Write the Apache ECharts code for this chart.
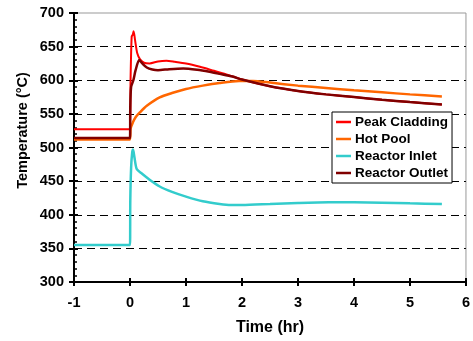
<!DOCTYPE html>
<html><head><meta charset="utf-8">
<script src="https://cdn.jsdelivr.net/npm/echarts@6/dist/echarts.min.js"></script>
<style>html,body{margin:0;padding:0;background:#fff}#c{width:473px;height:341px}</style>
</head><body><div id="c"></div>
<script>
var seriesNames = ['Peak Cladding', 'Hot Pool', 'Reactor Inlet', 'Reactor Outlet'];
var xTicks = [-1, 0, 1, 2, 3, 4, 5, 6];
var yTicks = [300, 350, 400, 450, 500, 550, 600, 650, 700];
var xTitle = 'Time (hr)';
var yTitle = 'Temperature (\u00B0C)';

var peakT = [-1, 0, 0.01, 0.03, 0.05, 0.065, 0.09, 0.13, 0.18, 0.25, 0.35, 0.5, 0.65, 0.8, 1.0, 1.25, 1.5, 1.75, 2.0, 2.5, 3.0, 3.5, 4.0, 4.5, 5.0, 5.57];
var peakV = [527, 527, 600, 665, 668, 673, 660, 640, 631, 626, 625, 628, 629, 627.5, 625, 620, 614, 608, 601, 591, 584, 579, 575, 571, 567.5, 564];

var poolT = [-1, 0, 0.01, 0.05, 0.1, 0.18, 0.3, 0.53, 0.75, 1.0, 1.3, 1.6, 1.95, 2.2, 2.5, 3.0, 3.5, 4.0, 4.5, 5.0, 5.57];
var poolV = [512, 512, 528, 537, 545, 552.5, 562, 574.5, 581, 587, 592, 596, 599, 599, 596.5, 592, 588.5, 585, 582, 579, 576];

var inletT = [-1, 0, 0.005, 0.02, 0.04, 0.055, 0.08, 0.12, 0.2, 0.35, 0.53, 0.75, 1.0, 1.3, 1.6, 1.8, 2.0, 2.5, 3.0, 3.55, 4.0, 4.5, 5.0, 5.57];
var inletV = [355, 355, 420, 470, 493, 497, 485, 468, 462, 452, 442, 434, 427, 420, 416, 414.5, 414.5, 416, 417.5, 418.5, 418.5, 418, 417, 416];

var outletT = [-1, 0, 0.005, 0.02, 0.06, 0.1, 0.165, 0.22, 0.3, 0.4, 0.5, 0.7, 0.95, 1.2, 1.42, 1.6, 1.83, 2.0, 2.5, 3.0, 3.5, 4.0, 4.5, 5.0, 5.57];
var outletV = [514, 514, 560, 590, 600, 615, 630, 625, 619, 616, 615, 616.5, 617.5, 615.5, 612.5, 609.5, 605.5, 601, 591, 584, 579, 575, 571, 567.5, 564];

function pairs(t, v) { return t.map(function (x, i) { return [x, v[i]]; }); }

var colors = ['#FF0000', '#FF6600', '#33CCCC', '#800000'];
var widths = [2, 2.5, 2.5, 2.5];
var data = [pairs(peakT, peakV), pairs(poolT, poolV), pairs(inletT, inletV), pairs(outletT, outletV)];

var font = 'Arial, "Liberation Sans", sans-serif';
var chart = echarts.init(document.getElementById('c'), null, {renderer: 'canvas'});
var xMin = xTicks[0], xMax = xTicks[xTicks.length - 1];
var yMin = yTicks[0], yMax = yTicks[yTicks.length - 1];
chart.setOption({
  animation: false,
  backgroundColor: '#fff',
  grid: {left: 74, right: 4, top: 13, bottom: 57, show: true, borderColor: '#999', borderWidth: 1},
  legend: {
    orient: 'vertical', left: 332, top: 112,
    data: seriesNames,
    icon: 'rect', itemWidth: 15, itemHeight: 2.5, itemGap: 3,
    padding: [3, 4, 3, 4],
    borderColor: '#000', borderWidth: 1, backgroundColor: '#fff',
    textStyle: {fontFamily: font, fontWeight: 'bold', fontSize: 13.5, color: '#000', padding: [0, 0, 0, -1]}
  },
  graphic: [{
    type: 'text', x: 22.5, y: 130.5, rotation: Math.PI / 2,
    style: {text: yTitle, font: 'bold 14.5px ' + font, fill: '#000', align: 'center', verticalAlign: 'middle'}
  }],
  xAxis: [{
    type: 'value', min: xMin, max: xMax, interval: 1,
    name: xTitle, nameLocation: 'middle', nameGap: 38,
    nameTextStyle: {fontFamily: font, fontWeight: 'bold', fontSize: 16, color: '#000'},
    axisLine: {show: true, onZero: false, lineStyle: {color: '#000', width: 2}},
    axisTick: {show: true, inside: false, length: 4, lineStyle: {color: '#000', width: 2}},
    axisLabel: {fontFamily: font, fontWeight: 'bold', fontSize: 14.5, color: '#000', margin: 13},
    splitLine: {show: false}
  }, {
    type: 'value', position: 'bottom', min: xMin, max: xMax, interval: 1,
    axisLine: {show: false, onZero: false}, axisLabel: {show: false}, splitLine: {show: false},
    axisTick: {show: true, inside: true, length: 4, lineStyle: {color: '#000', width: 2}}
  }],
  yAxis: [{
    type: 'value', min: yMin, max: yMax, interval: 50,
    axisLine: {show: true, onZero: false, lineStyle: {color: '#000', width: 2}},
    axisTick: {show: true, inside: false, length: 5, lineStyle: {color: '#000', width: 2}},
    axisLabel: {fontFamily: font, fontWeight: 'bold', fontSize: 14.5, color: '#000', margin: 10},
    splitLine: {show: true, showMinLine: false, showMaxLine: false, lineStyle: {color: '#000', width: 1, type: [8, 5]}}
  }, {
    type: 'value', position: 'left', min: yMin, max: yMax, interval: 50,
    axisLine: {show: false, onZero: false}, axisLabel: {show: false}, splitLine: {show: false},
    axisTick: {show: true, inside: true, length: 4, lineStyle: {color: '#000', width: 2}},
    minorTick: {show: true, splitNumber: 5, length: 3, lineStyle: {color: '#000', width: 1.5}}
  }],
  series: seriesNames.map(function (n, i) {
    return {
      name: n, type: 'line', data: data[i], symbol: 'none', smooth: 0.25,
      itemStyle: {color: colors[i]},
      lineStyle: {color: colors[i], width: widths[i]},
      z: 2 + i
    };
  })
});
</script></body></html>
